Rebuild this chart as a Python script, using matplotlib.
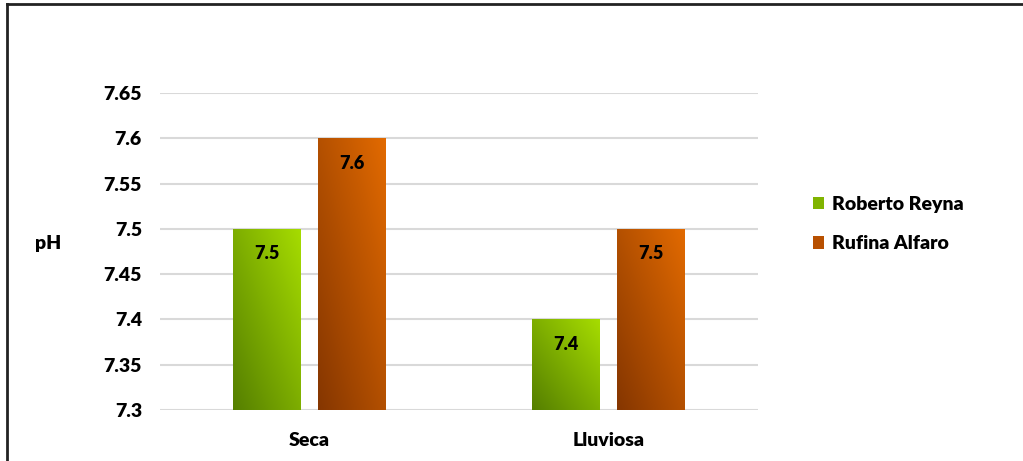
import numpy as np
import matplotlib
matplotlib.use("Agg")
import matplotlib.pyplot as plt
from matplotlib.colors import LinearSegmentedColormap
from matplotlib.patches import Patch
from matplotlib.lines import Line2D

# --- data
seasons = ["Seca", "Lluviosa"]
roberto_reyna = [7.5, 7.4]
rufina_alfaro = [7.6, 7.5]
series_names = ["Roberto Reyna", "Rufina Alfaro"]
y_ticks = [7.3, 7.35, 7.4, 7.45, 7.5, 7.55, 7.6, 7.65]
y_tick_labels = ["7.3", "7.35", "7.4", "7.45", "7.5", "7.55", "7.6", "7.65"]

plt.rcParams["font.family"] = ["Lato", "DejaVu Sans"]
plt.rcParams["font.weight"] = "heavy"
W = "heavy"

green_cmap = LinearSegmentedColormap.from_list("g", ["#557f00", "#a6dc00"])
orange_cmap = LinearSegmentedColormap.from_list("o", ["#853600", "#e26a00"])

fig = plt.figure(figsize=(10.23, 4.61), dpi=100)
ax = fig.add_axes([160 / 1023, 1 - 410 / 461, 598 / 1023, 317 / 461])

x = np.arange(len(seasons))
width = 0.227
offset = 0.142

# diagonal gradient: dark bottom-left -> light top-right
gx, gy = np.meshgrid(np.linspace(0, 1, 64), np.linspace(0, 1, 64))
grad = (gx + gy) / 2


def gradient_bars(xpos, values, cmap):
    bars = ax.bar(xpos, np.array(values) - 7.3, width, bottom=7.3,
                  color="none", edgecolor="none", zorder=3)
    for b in bars:
        x0, y0 = b.get_x(), b.get_y()
        x1, y1 = x0 + b.get_width(), y0 + b.get_height()
        im = ax.imshow(grad, cmap=cmap, origin="lower", extent=[x0, x1, y0, y1],
                       aspect="auto", zorder=3, interpolation="bilinear")
        im.set_clip_path(b)
    for xi, v in zip(xpos, values):
        ax.annotate(f"{v:g}", (xi, v), xytext=(0, -25), textcoords="offset pixels",
                    ha="center", va="center", fontsize=13, fontweight=W,
                    color="black", zorder=5)


gradient_bars(x - offset, roberto_reyna, green_cmap)
gradient_bars(x + offset, rufina_alfaro, orange_cmap)

ax.set_xlim(-0.5, 1.5)
ax.set_ylim(7.3, 7.65)
ax.set_yticks(y_ticks)
ax.set_yticklabels(y_tick_labels)
ax.set_xticks(x)
ax.set_xticklabels(seasons)
ax.tick_params(axis="both", length=0, labelsize=14)
ax.tick_params(axis="y", pad=13)
ax.tick_params(axis="x", pad=16)
for lab in ax.get_xticklabels() + ax.get_yticklabels():
    lab.set_fontweight(W)
ax.grid(axis="y", color="#d9d9d9", linewidth=1.5, zorder=0)
ax.set_axisbelow(True)
for s in ax.spines.values():
    s.set_visible(False)

fig.text(48 / 1023, 1 - 243 / 461, "pH", ha="center", va="center",
         fontsize=14, fontweight=W)

handles = [Patch(facecolor="#80b400", edgecolor="none"),
           Patch(facecolor="#b85000", edgecolor="none")]
fig.legend(handles, series_names, loc="center left",
           bbox_to_anchor=(795 / 1023, 1 - 224 / 461), frameon=False,
           handlelength=0.6, handleheight=0.6,
           handletextpad=0.4, labelspacing=1.15,
           prop={"weight": W, "size": 14})

# figure border (top and left only visible)
fig.add_artist(Line2D([7 / 1023, 1], [1 - 4 / 461, 1 - 4 / 461], color="#222222",
                      linewidth=2, transform=fig.transFigure))
fig.add_artist(Line2D([7 / 1023, 7 / 1023], [0, 1 - 4 / 461], color="#222222",
                      linewidth=2, transform=fig.transFigure))

fig.savefig("out.png", dpi=100, facecolor="white")
